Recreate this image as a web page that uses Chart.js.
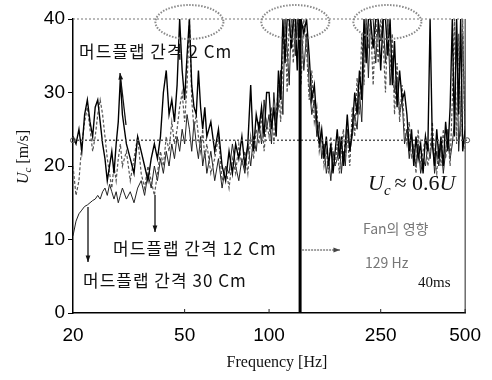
<!DOCTYPE html>
<html lang="ko">
  <head>
    <meta charset="UTF-8" />
    <title>Uc vs Frequency</title>
    <script src="https://cdn.jsdelivr.net/npm/chart.js@4.4.1/dist/chart.umd.min.js"></script>
    <style>
      body { margin: 0; background: #fff; }
    </style>
  </head>
  <body>
    <canvas id="myChart" width="492" height="380"></canvas>
    <script>
      /*** data ***/
      const freqs = [
        20, 20.5, 21, 21.5, 22, 22.5, 23, 23.5, 24, 24.5,
        25, 25.5, 26, 26.5, 27, 27.5, 28, 28.5, 29, 29.5,
        30, 31, 32, 33, 34, 35, 36, 37, 38, 39,
        40, 41, 42, 43, 44, 45, 46, 47, 48, 49,
        50, 51, 52, 53, 54, 55, 56, 57, 58, 59,
        60, 62, 64, 66, 68, 70, 72, 74, 76, 78,
        80, 82, 84, 86, 88, 90, 92, 94, 96, 98,
        100, 102, 104, 106, 108, 110, 112, 114, 116, 118,
        120, 122, 124, 126, 128, 130, 133, 136, 139, 142,
        145, 148, 151, 154, 157, 160, 163, 166, 169, 172,
        175, 178, 181, 184, 187, 190, 194, 198, 202, 206,
        210, 214, 218, 222, 226, 230, 235, 240, 245, 250,
        255, 260, 265, 270, 275, 280, 286, 292, 298, 304,
        310, 316, 322, 328, 334, 340, 347, 354, 361, 368,
        375, 382, 389, 396, 403, 410, 418, 426, 434, 442,
        450, 458, 466, 474, 482, 490, 500,
      ];
      // mudflap gap 2 cm
      const gap2 = [
        24, 23, 25, 22, 27, 29, 26, 24, 28, 29,
        26, 23, 21, 18, 20, 22, 19, 23, 26, 32,
        27, 23, 21, 19, 24, 22, 20, 18, 21, 23,
        21, 24, 30, 33, 27, 29, 26, 31, 40, 33,
        29, 35, 40, 31, 28, 27, 33, 28, 25, 28,
        24, 26, 22, 25, 20, 18, 22, 19, 23, 21,
        24, 20, 23, 31, 22, 27, 25, 28, 24, 30,
        30, 25, 28, 24, 33, 29, 40, 34, 40, 40,
        36, 40, 40, 33, 40, 40, 38, 40, 35, 29,
        31, 26, 23, 25, 21, 24, 20, 23, 19, 22,
        25, 21, 24, 20, 23, 27, 22, 25, 30, 27,
        33, 29, 40, 34, 40, 40, 36, 40, 40, 33,
        40, 40, 35, 40, 31, 37, 28, 33, 29, 30,
        27, 22, 25, 20, 24, 21, 23, 19, 24, 22,
        40, 23, 20, 25, 21, 24, 20, 26, 22, 28,
        40, 24, 40, 27, 40, 22, 25,
      ];
      // mudflap gap 12 cm
      const gap12 = [
        20, 16, 18, 23, 26, 28, 25, 22, 24, 27,
        29, 27, 24, 21, 19, 17, 20, 18, 21, 23,
        20, 22, 18, 21, 24, 19, 17, 20, 18, 16,
        19, 22, 20, 24, 22, 26, 23, 25, 28, 30,
        26, 31, 40, 29, 25, 27, 24, 22, 25, 21,
        23, 19, 21, 24, 18, 20, 17, 21, 19, 23,
        20, 22, 19, 24, 21, 25, 23, 27, 22, 26,
        24, 28, 23, 27, 31, 26, 35, 40, 30, 40,
        40, 34, 40, 38, 40, 31, 40, 36, 29, 33,
        26, 28, 22, 24, 20, 22, 19, 24, 21, 20,
        23, 19, 22, 25, 21, 24, 20, 28, 24, 32,
        27, 38, 31, 40, 36, 40, 31, 40, 34, 40,
        37, 30, 40, 33, 38, 27, 34, 26, 31, 25,
        23, 26, 21, 23, 19, 25, 20, 22, 24, 20,
        22, 26, 21, 19, 23, 20, 25, 21, 24, 20,
        29, 40, 23, 38, 24, 40, 22,
      ];
      // mudflap gap 30 cm
      const gap30 = [
        10.5, 12.5, 13.5, 14, 14.5, 14.7, 15, 15.3, 15.5, 16,
        15.5, 16.5, 17, 16, 17.5, 16.5, 15.5, 16.5, 15, 16,
        17, 15.5, 16.5, 15, 17, 18, 16, 19, 17, 20,
        18, 21, 19, 22, 20, 23, 21, 24, 22, 25,
        23, 27, 25, 22, 26, 23, 21, 24, 20, 22,
        19, 22, 18, 21, 17, 20, 19, 23, 20, 18,
        21, 19, 23, 20, 24, 22, 26, 23, 29, 25,
        27, 23, 30, 26, 28, 33, 27, 40, 36, 31,
        40, 40, 35, 40, 36, 40, 33, 38, 31, 27,
        29, 24, 26, 21, 23, 19, 21, 18, 22, 20,
        21, 24, 19, 22, 20, 25, 22, 24, 27, 25,
        30, 26, 35, 40, 32, 40, 40, 34, 40, 37,
        40, 34, 40, 31, 35, 30, 32, 27, 29, 23,
        25, 21, 24, 22, 20, 23, 19, 21, 20, 23,
        21, 24, 19, 22, 20, 23, 19, 22, 25, 21,
        23, 26, 40, 22, 27, 38, 24,
      ];
      const xTicks = [20, 50, 100, 250, 500];
      const ucLevel = 23.5; // Uc = 0.6U
      const fanFreq = 129;
      const peakBands = [52, 124, 264]; // circled peaks

      const toPts = (ys) => freqs.map((f, i) => ({ x: f, y: ys[i] }));

      /*** arrows and texts drawn on top ***/
      function arrow(c, x1, y1, x2, y2) {
        c.beginPath();
        c.moveTo(x1, y1);
        c.lineTo(x2, y2);
        c.stroke();
        const a = Math.atan2(y2 - y1, x2 - x1);
        c.beginPath();
        c.moveTo(x2, y2);
        c.lineTo(x2 - 7 * Math.cos(a - 0.35), y2 - 7 * Math.sin(a - 0.35));
        c.lineTo(x2 - 7 * Math.cos(a + 0.35), y2 - 7 * Math.sin(a + 0.35));
        c.closePath();
        c.fill();
      }

      const notes = {
        id: "notes",
        afterDraw(chart) {
          const c = chart.ctx;
          const a = chart.chartArea;
          const xs = chart.scales.x;
          const ys = chart.scales.y;
          c.save();

          // top border (dotted) and right border
          c.lineWidth = 1;
          c.strokeStyle = "#777";
          c.setLineDash([2, 2]);
          c.beginPath();
          c.moveTo(a.left, a.top);
          c.lineTo(a.right, a.top);
          c.stroke();
          c.setLineDash([]);
          c.strokeStyle = "#222";
          c.beginPath();
          c.moveTo(a.right, a.top);
          c.lineTo(a.right, a.bottom);
          c.stroke();

          // small inward ticks on the x axis
          xTicks.slice(1).forEach((v) => {
            const x = xs.getPixelForValue(v);
            c.beginPath();
            c.moveTo(x, a.bottom);
            c.lineTo(x, a.bottom - 4);
            c.stroke();
          });

          // Uc level line
          const yl = ys.getPixelForValue(ucLevel);
          c.strokeStyle = "#555";
          c.lineWidth = 1.5;
          c.setLineDash([2, 2]);
          c.beginPath();
          c.moveTo(a.left, yl);
          c.lineTo(a.right + 2, yl);
          c.stroke();
          c.setLineDash([]);
          c.lineWidth = 1;
          [a.left, a.right + 2].forEach((x) => {
            c.beginPath();
            c.arc(x, yl, 2.5, 0, Math.PI * 2);
            c.stroke();
          });

          // fan line at 129 Hz
          const xf = xs.getPixelForValue(fanFreq);
          c.strokeStyle = "#000";
          c.lineWidth = 3;
          c.beginPath();
          c.moveTo(xf, a.top);
          c.lineTo(xf, a.bottom);
          c.stroke();

          // circled peaks
          c.strokeStyle = "#8a8a8a";
          c.lineWidth = 2;
          c.setLineDash([1.5, 1.5]);
          peakBands.forEach((f) => {
            c.beginPath();
            c.ellipse(xs.getPixelForValue(f), a.top + 3, 34, 17, 0, 0, Math.PI * 2);
            c.stroke();
          });
          c.setLineDash([]);

          // label arrows
          c.strokeStyle = "#111";
          c.fillStyle = "#111";
          c.lineWidth = 1.3;
          arrow(c, 126, 125, 120, 73);
          arrow(c, 155, 195, 155, 232);
          arrow(c, 88, 207, 88, 262);
          c.strokeStyle = "#444";
          c.fillStyle = "#444";
          c.lineWidth = 1;
          c.setLineDash([2, 1]);
          arrow(c, xf + 2, 250, 340, 250);
          c.setLineDash([]);

          // Korean labels
          c.fillStyle = "#111";
          c.textBaseline = "alphabetic";
          c.textAlign = "left";
          c.font = '17px "Noto Sans CJK KR"';
          c.letterSpacing = "1px";
          c.fillText("머드플랩 간격 2 Cm", 79, 58);
          c.fillText("머드플랩 간격 12 Cm", 113, 255);
          c.fillText("머드플랩 간격 30 Cm", 83, 287);
          c.letterSpacing = "0px";

          c.fillStyle = "#777";
          c.font = '14px "Noto Sans CJK KR"';
          c.fillText("Fan의 영향", 363, 234);
          c.fillText("129 Hz", 365, 268);

          c.fillStyle = "#111";
          c.font = '15px "Liberation Serif"';
          c.fillText("40ms", 418, 287);

          // Uc ≈ 0.6U
          let x = 368;
          const yb = 190;
          c.font = 'italic 22px "Liberation Serif"';
          c.fillText("U", x, yb);
          x += c.measureText("U").width;
          c.font = 'italic 15px "Liberation Serif"';
          c.fillText("c", x, yb + 5);
          x += c.measureText("c").width + 4;
          c.font = '22px "Liberation Serif"';
          c.fillText("≈ 0.6", x, yb);
          x += c.measureText("≈ 0.6").width;
          c.font = 'italic 22px "Liberation Serif"';
          c.fillText("U", x, yb);

          // x axis title
          c.font = '16px "Liberation Serif"';
          c.textAlign = "center";
          c.fillText("Frequency [Hz]", 277, 367);

          // y axis title, rotated
          c.translate(28, 157);
          c.rotate(-Math.PI / 2);
          c.textAlign = "left";
          c.font = 'italic 16px "Liberation Serif"';
          const wU = c.measureText("U").width;
          c.font = 'italic 11px "Liberation Serif"';
          const wc = c.measureText("c").width;
          c.font = '16px "Liberation Serif"';
          const wr = c.measureText(" [m/s]").width;
          let tx = -(wU + wc + wr) / 2;
          c.font = 'italic 16px "Liberation Serif"';
          c.fillText("U", tx, 0);
          tx += wU;
          c.font = 'italic 11px "Liberation Serif"';
          c.fillText("c", tx, 3);
          tx += wc;
          c.font = '16px "Liberation Serif"';
          c.fillText(" [m/s]", tx, 0);

          c.restore();
        },
      };

      /*** the chart ***/
      const ctx = document.getElementById("myChart").getContext("2d");
      const chart = new Chart(ctx, {
        type: "line",
        data: {
          datasets: [
            {
              label: "2 cm",
              data: toPts(gap2),
              borderColor: "#000",
              borderWidth: 1.4,
            },
            {
              label: "12 cm",
              data: toPts(gap12),
              borderColor: "#555",
              borderWidth: 1.2,
              borderDash: [3, 2],
            },
            {
              label: "30 cm",
              data: toPts(gap30),
              borderColor: "#222",
              borderWidth: 1,
            },
          ],
        },
        options: {
          responsive: false,
          animation: false,
          events: [],
          elements: { point: { radius: 0 }, line: { tension: 0 } },
          layout: { padding: { top: 19, right: 24, left: 0, bottom: 0 } },
          plugins: { legend: { display: false }, tooltip: { enabled: false } },
          scales: {
            x: {
              type: "logarithmic",
              min: 20,
              max: 500,
              afterBuildTicks: (s) => {
                s.ticks = xTicks.map((v) => ({ value: v }));
              },
              afterFit: (s) => {
                s.height = 67;
              },
              grid: { display: false, drawTicks: false },
              border: { display: true, color: "#000", width: 1.5 },
              ticks: {
                autoSkip: false,
                maxRotation: 0,
                padding: 11,
                color: "#000",
                font: { family: "Liberation Sans", size: 19 },
                callback: (v) => String(v),
              },
            },
            y: {
              min: 0,
              max: 40,
              afterFit: (s) => {
                s.width = 73;
              },
              grid: {
                drawOnChartArea: false,
                drawTicks: true,
                tickLength: 5,
                color: "#000",
              },
              border: { display: true, color: "#000", width: 1.5 },
              ticks: {
                stepSize: 10,
                padding: 3,
                color: "#000",
                font: { family: "Liberation Sans", size: 19 },
              },
            },
          },
        },
        plugins: [notes],
      });
    </script>
  </body>
</html>
